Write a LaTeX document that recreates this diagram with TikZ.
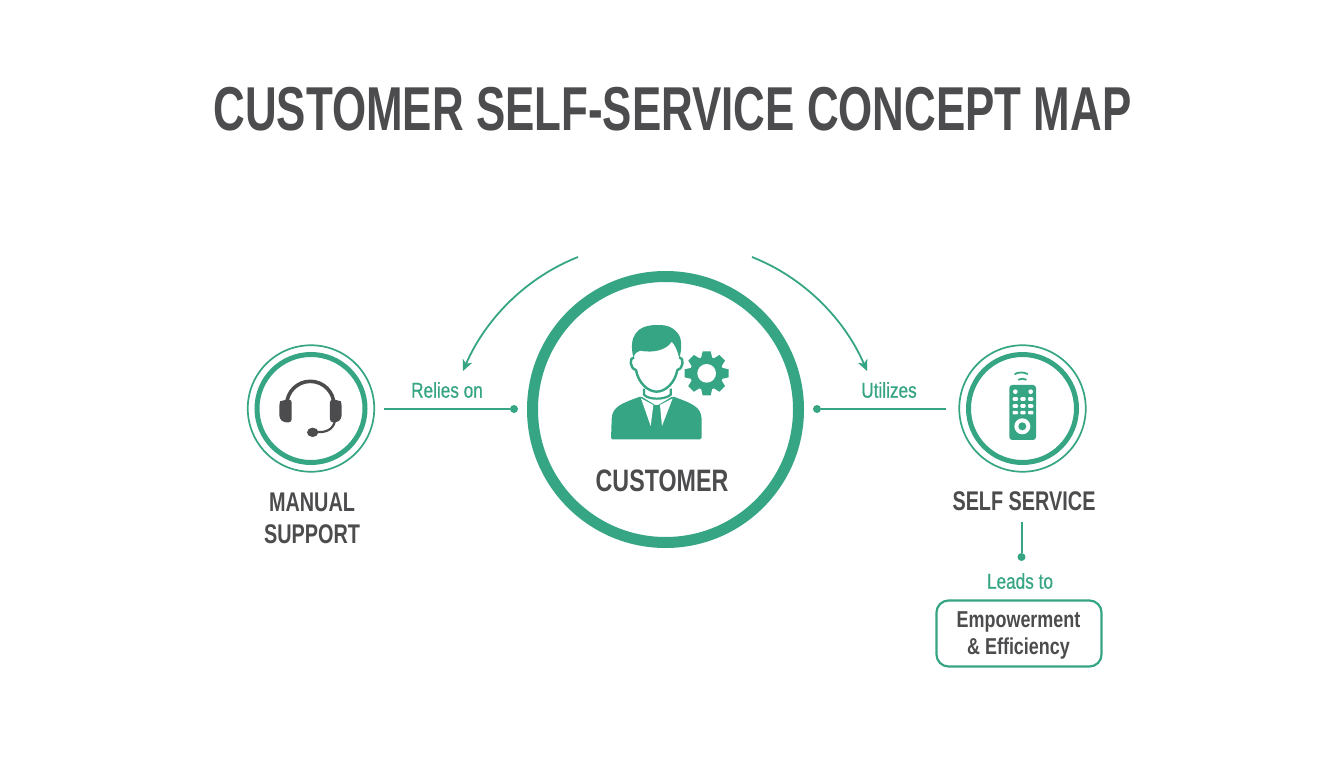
\documentclass[tikz,border=0pt]{standalone}
\usepackage{fontspec}
\setmainfont{Liberation Sans}
\newfontfamily\condreg{Liberation Sans}[FakeStretch=0.80,FakeBold=0.6]
\newfontfamily\condbold{Liberation Sans Bold}[FakeStretch=0.735]
\newfontfamily\titlebold{Liberation Sans Bold}[FakeStretch=0.708]
\newfontfamily\custbold{Liberation Sans Bold}[FakeStretch=0.75]
\newfontfamily\resbold{Liberation Sans Bold}[FakeStretch=0.78]
\usetikzlibrary{arrows.meta}
\definecolor{brandgreen}{HTML}{36A584}
\definecolor{inkgray}{HTML}{4C4C4E}
\tikzset{
  titletext/.style={text=inkgray,font=\titlebold\fontsize{62}{62}\selectfont,inner sep=0pt},
  headtext/.style={text=inkgray,font=\condbold\fontsize{27}{32}\selectfont,inner sep=0pt,align=center},
  linktext/.style={text=brandgreen,font=\condreg\fontsize{21.5}{24}\selectfont,inner sep=0pt},
  ringthin/.style={circle,draw=brandgreen,line width=1.7pt,minimum size=126.5pt,inner sep=0pt},
  ringthick/.style={circle,draw=brandgreen,line width=5pt,minimum size=108pt,inner sep=0pt},
  bigring/.style={circle,draw=brandgreen,line width=11pt,minimum size=266pt,inner sep=0pt},
  connector/.style={draw=brandgreen,line width=2pt},
  dotend/.style={circle,fill=brandgreen,inner sep=0pt,minimum size=8pt},
  curvearrow/.style={draw=brandgreen,line width=1.8pt,-{Stealth[length=11pt,width=10pt,inset=3pt]}},
  resultbox/.style={draw=brandgreen,line width=2.2pt,rounded corners=12pt,minimum width=165pt,minimum height=66pt,inner sep=0pt},
  resulttext/.style={inner sep=0pt,align=center,text=inkgray,font=\resbold\fontsize{23}{27}\selectfont},
  zoomA/.style={shift={(560,300)},x=0.3333pt,y=-0.3333pt},
  zoomB/.style={shift={(230,330)},x=0.3333pt,y=-0.3333pt},
  zoomC/.style={shift={(940,330)},x=0.3333pt,y=-0.3333pt},
}
\begin{document}
\begin{tikzpicture}[x=1pt,y=-1pt]
\useasboundingbox (0,0) rectangle (1344,768);
\fill[white] (0,0) rectangle (1344,768);
\node[titletext] (title) at (672.5,109) {CUSTOMER SELF-SERVICE CONCEPT MAP};
% rings
\node[bigring] (cust) at (665.5,409.5) {};
\node[ringthin] (manualouter) at (311,408.5) {};
\node[ringthick] (manual) at (311,408.5) {};
\node[ringthin] (selfouter) at (1022.5,408.5) {};
\node[ringthick] (self) at (1022.5,408.5) {};
% person
\begin{scope}[zoomA]
\fill[brandgreen] (220,172) .. controls (205,110) and (230,75) .. (290,75)
  .. controls (330,73) and (345,90) .. (352,98)
  .. controls (368,115) and (365,150) .. (358,175)
  .. controls (352,150) and (345,135) .. (335,125)
  .. controls (320,150) and (280,160) .. (240,152)
  .. controls (230,155) and (225,160) .. (220,172) -- cycle;
\draw[brandgreen,line width=2.4pt,line join=round] (222,172)
  .. controls (208,172) and (208,205) .. (228,210)
  .. controls (235,250) and (265,275) .. (290,275)
  .. controls (315,275) and (345,250) .. (352,210)
  .. controls (372,205) and (372,172) .. (358,172);
\draw[brandgreen,line width=2.2pt] (252,266) -- (252,284) .. controls (265,300) and (315,300) .. (332,284) -- (332,266);
\fill[brandgreen,rounded corners=1.5pt] (153,418) -- (155,360) .. controls (157,320) and (185,310) .. (243,289)
  -- (290,318) -- (338,289) .. controls (395,310) and (423,320) .. (425,360) -- (425,418) -- cycle;
\fill[white] (243,295) -- (280,315) -- (272,378) -- cycle;
\fill[white] (338,295) -- (300,315) -- (306,378) -- cycle;
% gear
\fill[brandgreen] (440,220) circle[radius=50];
\foreach \a in {0,45,...,315}{
  \fill[brandgreen,rotate around={\a:(440,220)}] (428,154) -- (452,154) -- (458,180) -- (422,180) -- cycle;
}
\fill[white] (440,220) circle[radius=28];
\end{scope}
\node[headtext,font=\custbold\fontsize{31}{36}\selectfont] (custlabel) at (662,481) {CUSTOMER};
% headset
\begin{scope}[zoomB]
\draw[inkgray,line width=3.6pt] (170,225) arc[start angle=180,end angle=360,radius=71];
\fill[inkgray,rounded corners=3pt] (148,222) .. controls (150,215) and (160,210) .. (185,208) -- (185,277) -- (160,277) -- (148,265) -- cycle;
\fill[inkgray,rounded corners=3pt] (335,222) .. controls (333,215) and (323,210) .. (300,208) -- (300,277) -- (323,277) -- (335,265) -- cycle;
\draw[inkgray,line width=2.2pt] (315,272) .. controls (310,300) and (285,308) .. (262,306);
\fill[inkgray] (248,307) ellipse[x radius=17,y radius=14];
\end{scope}
% remote
\begin{scope}[zoomC]
\fill[brandgreen,rounded corners=3pt] (208,165) rectangle (288,330);
\draw[brandgreen,line width=1.8pt,line cap=round] (225,132) .. controls (235,126) and (252,126) .. (262,132);
\draw[brandgreen,line width=1.8pt,line cap=round] (236,149) .. controls (242,145) and (252,145) .. (258,149);
\foreach \x in {226,272}{\fill[white] (\x,185) circle[radius=7];}
\foreach \y in {207,228,248}{\foreach \x in {226,249,272}{
  \fill[white,rounded corners=1pt] (\x-8,\y-5.5) rectangle (\x+8,\y+5.5);}}
\fill[white] (247,289) circle[radius=24];
\fill[brandgreen] (247,289) circle[radius=12];
\end{scope}
% labels
\node[headtext] (manuallabel) at (312,518.5) {MANUAL\\SUPPORT};
\node[headtext] (selflabel) at (1024,501) {SELF SERVICE};
\node[linktext] (relies) at (447,390) {Relies on};
\node[linktext] (utilizes) at (889,390) {Utilizes};
\node[linktext] (leads) at (1020,581) {Leads to};
\node[resultbox] (result) at (1019,633.5) {};
\node[resulttext] (resultlabel) at (1018.5,635) {Empowerment\\\& Efficiency};
% connectors
\node[dotend] (dotL) at (514,409) {};
\node[dotend] (dotR) at (817,409) {};
\node[dotend] (dotB) at (1021.5,557) {};
\coordinate (startL) at (384,409);
\coordinate (startR) at (946,409);
\coordinate (startB) at (1021.5,522);
\draw[connector] (startL) -- (dotL);
\draw[connector] (startR) -- (dotR);
\draw[connector] (startB) -- (dotB);
\coordinate (arcLa) at (578,257);
\coordinate (arcLb) at (463,371);
\coordinate (arcRa) at (752,257);
\coordinate (arcRb) at (867,371);
\draw[curvearrow] (arcLa) .. controls (525,278) and (485,320) .. (arcLb);
\draw[curvearrow] (arcRa) .. controls (805,278) and (845,320) .. (arcRb);
\end{tikzpicture}
\end{document}
